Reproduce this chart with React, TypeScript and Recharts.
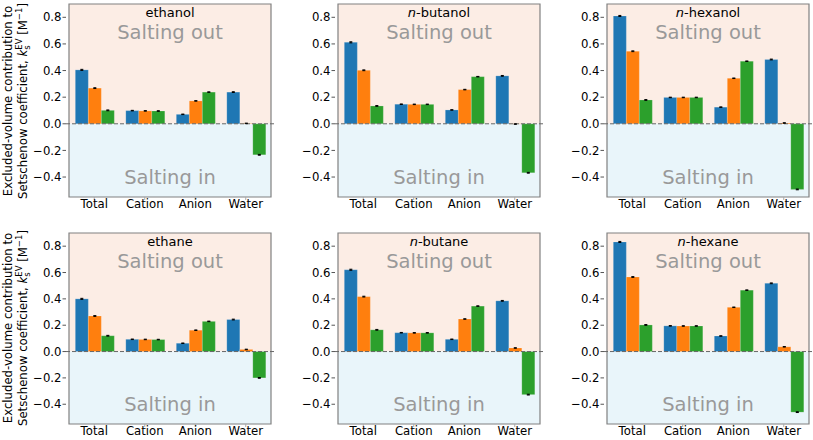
import { BarChart, Bar, XAxis, YAxis, ReferenceArea, ReferenceLine, ErrorBar } from 'recharts'

const categories = ['Total', 'Cation', 'Anion', 'Water']
const yTicks = [-0.4, -0.2, 0, 0.2, 0.4, 0.6, 0.8]

// three series per panel (blue, orange, green)
const ethanolA = [0.405, 0.099, 0.071, 0.238]
const ethanolB = [0.268, 0.097, 0.172, 0.003]
const ethanolC = [0.101, 0.096, 0.238, -0.233]
const butanolA = [0.612, 0.147, 0.104, 0.36]
const butanolB = [0.402, 0.146, 0.257, -0.002]
const butanolC = [0.134, 0.146, 0.354, -0.368]
const hexanolA = [0.81, 0.198, 0.125, 0.483]
const hexanolB = [0.545, 0.198, 0.342, 0.006]
const hexanolC = [0.179, 0.198, 0.47, -0.493]
const ethaneA = [0.4, 0.093, 0.063, 0.243]
const ethaneB = [0.27, 0.092, 0.162, 0.016]
const ethaneC = [0.12, 0.091, 0.229, -0.2]
const butaneA = [0.621, 0.143, 0.093, 0.385]
const butaneB = [0.417, 0.142, 0.247, 0.027]
const butaneC = [0.165, 0.142, 0.345, -0.327]
const hexaneA = [0.832, 0.195, 0.118, 0.518]
const hexaneB = [0.566, 0.194, 0.336, 0.036]
const hexaneC = [0.202, 0.194, 0.466, -0.46]

const errA = [0.004, 0.002, 0.002, 0.003]
const errB = [0.003, 0.002, 0.002, 0.002]
const errC = [0.003, 0.002, 0.002, 0.003]

const FONT = 'DejaVu Sans'
const BLUE = '#1f77b4'
const ORANGE = '#ff7f0e'
const GREEN = '#2ca02c'
const Y_MIN = -0.55
const Y_MAX = 0.9

const fmt = (v: number) => (v < 0 ? '\u2212' + Math.abs(v).toFixed(1) : v.toFixed(1))

interface PanelProps {
  prefix?: string
  name: string
  a: number[]
  b: number[]
  c: number[]
  plotLeft: number
  plotTop: number
  plotH: number
}

function Panel({ prefix, name, a, b, c, plotLeft, plotTop, plotH }: PanelProps) {
  const data = categories.map((cat, i) => ({
    cat,
    a: a[i],
    b: b[i],
    c: c[i],
    ea: errA[i],
    eb: errB[i],
    ec: errC[i],
  }))
  const mt = 4
  const plotW = 208
  const width = 45 + plotW + 2
  const height = mt + plotH + 16

  const texts = (p: any) => {
    const vb = p.viewBox || {}
    const cx = vb.x + vb.width / 2
    return (
      <g fontFamily={FONT}>
        <text x={cx} y={vb.y + 12.5} textAnchor="middle" fontSize={13} fill="#000">
          {prefix ? <tspan fontStyle="italic">{prefix}</tspan> : null}
          {name}
        </text>
        <text x={cx} y={vb.y + 35.3} textAnchor="middle" fontSize={19.5} fill="#999">
          Salting out
        </text>
        <text x={cx} y={vb.y + vb.height - 13} textAnchor="middle" fontSize={19.5} fill="#999">
          Salting in
        </text>
      </g>
    )
  }

  return (
    <div style={{ position: 'absolute', left: plotLeft - 45, top: plotTop - mt }}>
      <BarChart
        width={width}
        height={height}
        data={data}
        margin={{ top: mt, right: 2, left: 5, bottom: 0 }}
        barCategoryGap="12.5%"
        barGap={0}
      >
        <XAxis
          dataKey="cat"
          padding={{ left: 3, right: 3 }}
          axisLine={false}
          tickLine={{ stroke: '#aaa' }}
          tickSize={3}
          tickMargin={0}
          height={16}
          interval={0}
          tick={{ fontSize: 11.7, fill: '#000', fontFamily: FONT }}
        />
        <YAxis
          type="number"
          domain={[Y_MIN, Y_MAX]}
          ticks={yTicks}
          allowDataOverflow
          width={40}
          axisLine={false}
          tickLine={{ stroke: '#555' }}
          tickSize={3.5}
          tickMargin={1}
          tickFormatter={fmt}
          tick={{ fontSize: 11.7, fill: '#000', fontFamily: FONT }}
        />
        <ReferenceArea y1={0} y2={Y_MAX} fill="#fcede5" fillOpacity={1} stroke="none" />
        <ReferenceArea y1={Y_MIN} y2={0} fill="#e9f5fa" fillOpacity={1} stroke="none" />
        <ReferenceLine y={0} stroke="#666" strokeDasharray="4 2" strokeWidth={1} />
        <Bar dataKey="a" fill={BLUE} stroke="rgba(255,255,255,0.35)" strokeWidth={0.5} isAnimationActive={false}>
          <ErrorBar dataKey="ea" width={1.5} stroke="#000" strokeWidth={1} />
        </Bar>
        <Bar dataKey="b" fill={ORANGE} stroke="rgba(255,255,255,0.35)" strokeWidth={0.5} isAnimationActive={false}>
          <ErrorBar dataKey="eb" width={1.5} stroke="#000" strokeWidth={1} />
        </Bar>
        <Bar dataKey="c" fill={GREEN} stroke="rgba(255,255,255,0.35)" strokeWidth={0.5} isAnimationActive={false}>
          <ErrorBar dataKey="ec" width={1.5} stroke="#000" strokeWidth={1} />
        </Bar>
        <ReferenceArea
          y1={Y_MIN}
          y2={Y_MAX}
          fill="none"
          stroke="#808080"
          strokeWidth={1.2}
          label={texts}
        />
      </BarChart>
    </div>
  )
}

function YLabel({ cy }: { cy: number }) {
  return (
    <svg
      width={34}
      height={220}
      style={{ position: 'absolute', left: 0, top: cy - 110 }}
      fontFamily={FONT}
      fontSize={11.7}
    >
      <text x={12} y={110} textAnchor="middle" transform="rotate(-90 12 110)" fill="#000">
        Excluded-volume contribution to
      </text>
      <text x={27} y={110} textAnchor="middle" transform="rotate(-90 27 110)" fill="#000">
        Setschenow coefficient,{' '}
        <tspan fontStyle="italic">k</tspan>
        <tspan fontSize={8.5} dy={3}>s</tspan>
        <tspan fontSize={8.5} dx={-4.4} dy={-8}>EV</tspan>
        <tspan dy={5}> [M</tspan>
        <tspan fontSize={8.5} dy={-5}>{'\u2212'}1</tspan>
        <tspan dy={5}>]</tspan>
      </text>
    </svg>
  )
}

export default function App() {
  const cols = [66, 335, 604]
  const rows = [4, 233]
  const heights = [193, 191]
  return (
    <div
      style={{
        position: 'absolute',
        left: 0,
        top: 0,
        width: 813,
        height: 440,
        background: '#fff',
        overflow: 'hidden',
        fontFamily: FONT,
      }}
    >
      <YLabel cy={100.5} />
      <YLabel cy={328} />
      <Panel name="ethanol" a={ethanolA} b={ethanolB} c={ethanolC} plotLeft={cols[0]} plotTop={rows[0]} plotH={heights[0]} />
      <Panel prefix="n" name="-butanol" a={butanolA} b={butanolB} c={butanolC} plotLeft={cols[1]} plotTop={rows[0]} plotH={heights[0]} />
      <Panel prefix="n" name="-hexanol" a={hexanolA} b={hexanolB} c={hexanolC} plotLeft={cols[2]} plotTop={rows[0]} plotH={heights[0]} />
      <Panel name="ethane" a={ethaneA} b={ethaneB} c={ethaneC} plotLeft={cols[0]} plotTop={rows[1]} plotH={heights[1]} />
      <Panel prefix="n" name="-butane" a={butaneA} b={butaneB} c={butaneC} plotLeft={cols[1]} plotTop={rows[1]} plotH={heights[1]} />
      <Panel prefix="n" name="-hexane" a={hexaneA} b={hexaneB} c={hexaneC} plotLeft={cols[2]} plotTop={rows[1]} plotH={heights[1]} />
    </div>
  )
}
